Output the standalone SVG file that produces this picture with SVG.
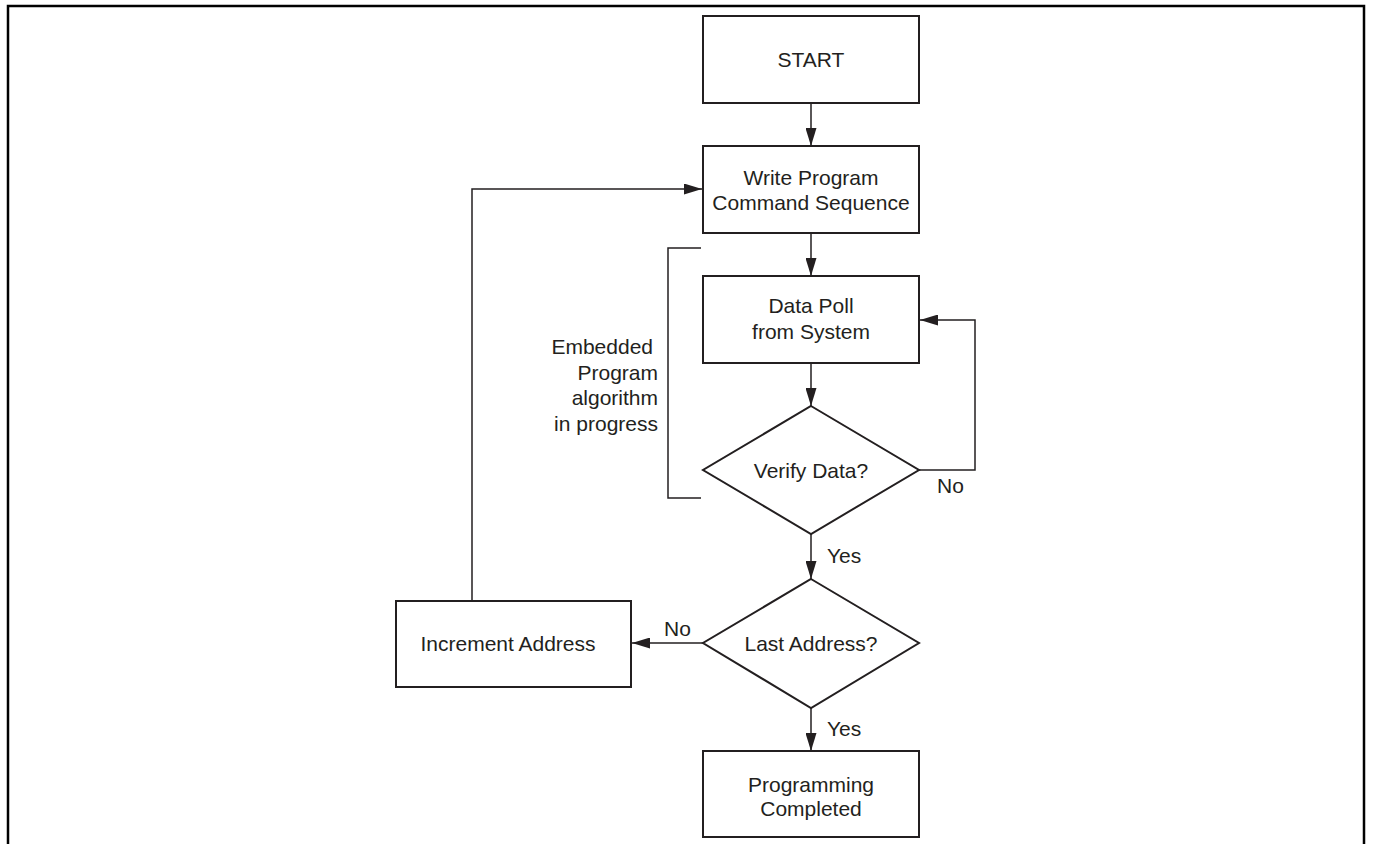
<svg xmlns="http://www.w3.org/2000/svg" width="1373" height="844" viewBox="0 0 1373 844">
<style>
.box{fill:#fff;stroke:#231f20;stroke-width:2}
.ln{fill:none;stroke:#231f20;stroke-width:1.5}
.t{font-family:"Liberation Sans",Arial,sans-serif;font-size:21px;fill:#231f20}
.c{text-anchor:middle}
.e{text-anchor:end}
</style>
<defs>
<marker id="ah" markerUnits="userSpaceOnUse" markerWidth="18" markerHeight="11" refX="18" refY="5.5" orient="auto">
<path d="M0,0 L18,5.5 L0,11 z" fill="#231f20"/>
</marker>
</defs>
<rect width="1373" height="844" fill="#fff"/>
<path d="M8,844 V6 H1364 V844" fill="none" stroke="#000" stroke-width="2.5"/>
<g id="connectors">
<path class="ln" d="M811,103 V146" marker-end="url(#ah)"/>
<path class="ln" d="M811,233 V276" marker-end="url(#ah)"/>
<path class="ln" d="M811,363 V406" marker-end="url(#ah)"/>
<path class="ln" d="M811,534 V579" marker-end="url(#ah)"/>
<path class="ln" d="M811,708 V751" marker-end="url(#ah)"/>
<path class="ln" d="M919,470 H975 V320 H920" marker-end="url(#ah)"/>
<path class="ln" d="M703,643 H632" marker-end="url(#ah)"/>
<path class="ln" d="M472,601 V189 H702" marker-end="url(#ah)"/>
<text class="t" x="937" y="493">No</text>
<text class="t" x="827" y="563">Yes</text>
<text class="t" x="664" y="636">No</text>
<text class="t" x="827" y="736">Yes</text>
</g>
<g id="bracket">
<path class="ln" d="M701,248 H668 V498 H701"/>
<text class="t e" x="653" y="354">Embedded</text>
<text class="t e" x="658" y="380">Program</text>
<text class="t e" x="658" y="405">algorithm</text>
<text class="t e" x="658" y="431">in progress</text>
</g>
<g id="start">
<rect class="box" x="703" y="16" width="216" height="87"/>
<text class="t c" x="811" y="67">START</text>
</g>
<g id="write">
<rect class="box" x="703" y="146" width="216" height="87"/>
<text class="t c" x="811" y="185">Write Program</text>
<text class="t c" x="811" y="210">Command Sequence</text>
</g>
<g id="poll">
<rect class="box" x="703" y="276" width="216" height="87"/>
<text class="t c" x="811" y="313">Data Poll</text>
<text class="t c" x="811" y="339">from System</text>
</g>
<g id="verify">
<polygon class="box" points="811,406 919,470 811,534 703,470"/>
<text class="t c" x="811" y="478">Verify Data?</text>
</g>
<g id="last">
<polygon class="box" points="811,579 919,643 811,708 703,643"/>
<text class="t c" x="811" y="651">Last Address?</text>
</g>
<g id="increment">
<rect class="box" x="396" y="601" width="235" height="86"/>
<text class="t c" x="508" y="651">Increment Address</text>
</g>
<g id="done">
<rect class="box" x="703" y="751" width="216" height="86"/>
<text class="t c" x="811" y="792">Programming</text>
<text class="t c" x="811" y="816">Completed</text>
</g>
</svg>
